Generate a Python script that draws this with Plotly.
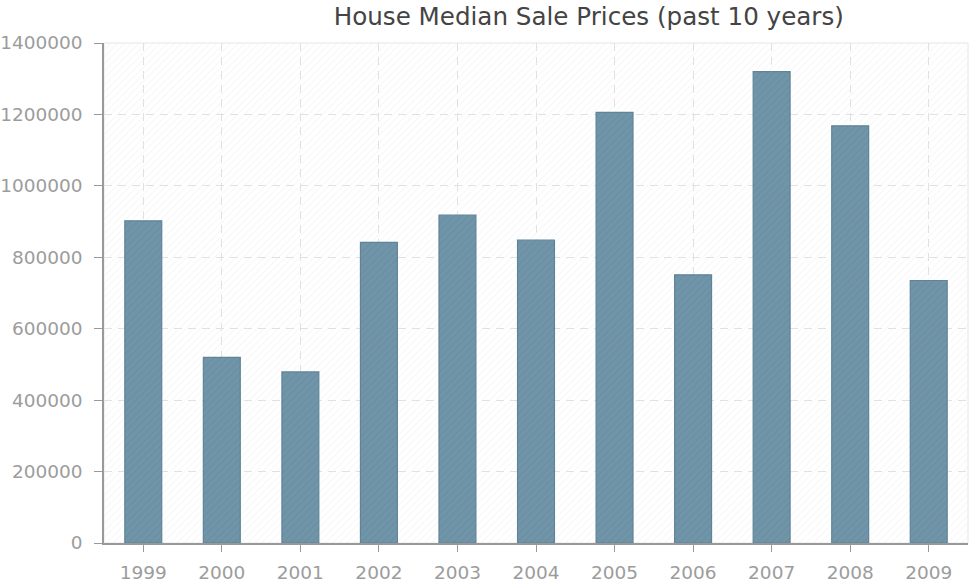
import plotly.graph_objects as go

years = ["1999", "2000", "2001", "2002", "2003", "2004", "2005", "2006", "2007", "2008", "2009"]
prices = [902000, 520000, 479000, 842000, 918000, 848000, 1206000, 751000, 1320000, 1168000, 735000]
y_ticks = [0, 200000, 400000, 600000, 800000, 1000000, 1200000, 1400000]
y_max = 1400000

fig = go.Figure()

# background hatch
fig.add_trace(go.Bar(
    x=years, y=[y_max] * len(years), width=1.0,
    marker=dict(color="rgba(0,0,0,0)", line=dict(width=0),
                pattern=dict(shape="/", fgcolor="#ececec", size=5, solidity=0.12, fillmode="replace")),
    hoverinfo="skip", showlegend=False,
))

fig.add_trace(go.Bar(
    x=years, y=prices, width=0.47,
    marker=dict(color="#7093a6", line=dict(color="#5f8499", width=1.2),
                pattern=dict(shape="/", fgcolor="#688ca1", bgcolor="#7195a8", size=5, solidity=0.2, fillmode="replace")),
    showlegend=False,
))

axis_font = dict(family="DejaVu Sans", size=18.5, color="#9c9c9c")

fig.update_layout(
    width=970, height=582,
    margin=dict(l=104, r=2, t=43, b=39),
    paper_bgcolor="white", plot_bgcolor="white",
    barmode="overlay",
    title=dict(text="House Median Sale Prices (past 10 years)", x=0.607, xanchor="center",
               y=0.971, yanchor="middle", yref="container",
               font=dict(family="DejaVu Sans", size=24.6, color="#444444")),
    xaxis=dict(type="category", range=[-0.5, 10.5], showgrid=True, gridcolor="#e0e0e0", griddash="8px,6px",
               gridwidth=1, showline=True, linecolor="#999999", linewidth=1.5,
               ticks="outside", ticklen=7, tickcolor="#999999", tickfont=axis_font,
               ticklabelstandoff=5, automargin=False),
    yaxis=dict(range=[0, y_max], tickvals=y_ticks, tickformat="d", showgrid=True, gridcolor="#e0e0e0",
               griddash="8px,6px", gridwidth=1, showline=True, linecolor="#999999", linewidth=1.5,
               ticks="outside", ticklen=8, tickcolor="#999999", tickfont=axis_font,
               ticklabelstandoff=8, zeroline=False, automargin=False),
    shapes=[dict(type="rect", xref="paper", yref="paper", x0=0, x1=1, y0=0, y1=1,
                 line=dict(color="#e6e6e6", width=1), layer="below")],
)

fig.write_html("out.html", config={"displayModeBar": False},
               post_script="document.body.style.margin='0';document.body.style.overflow='hidden';")
